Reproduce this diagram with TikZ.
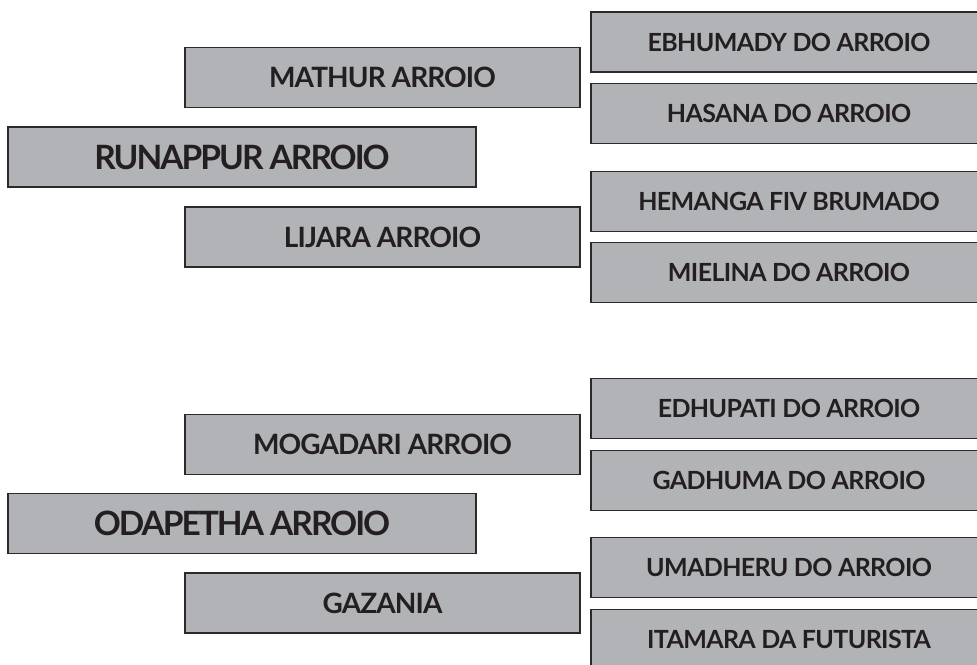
\documentclass[tikz,border=0pt]{standalone}
\usepackage{fontspec}
\setmainfont{Lato}
\definecolor{boxfill}{HTML}{B2B3B6}
\definecolor{boxline}{HTML}{2B2A2B}
\definecolor{txt}{HTML}{231F20}
\tikzset{
  gbox/.style={rectangle, fill=boxfill, draw=boxline, line width=1.3pt, inner sep=0pt,
    text=txt, minimum height=60pt},
  bigbox/.style={gbox, minimum width=468pt,
    font=\bfseries\fontsize{33.5}{33.5}\selectfont\addfontfeatures{LetterSpace=-6}},
  midbox/.style={gbox, minimum width=395pt,
    font=\bfseries\fontsize{28}{28}\selectfont\addfontfeatures{LetterSpace=-3.2}},
  rightbox/.style={gbox, minimum width=396pt,
    font=\bfseries\fontsize{25}{25}\selectfont\addfontfeatures{LetterSpace=-2.5}}
}
\begin{document}
\begin{tikzpicture}[x=1pt,y=-1pt]
\useasboundingbox (0,0) rectangle (977,664);
\clip (0,0) rectangle (977,664);
% top group
\node[bigbox] (runappur) at (242,157) {RUNAPPUR ARROIO};
\node[midbox] (mathur) at (382.5,77.5) {MATHUR ARROIO};
\node[midbox] (lijara) at (382.5,237) {LIJARA ARROIO};
\node[rightbox] (ebhumady) at (789,42) {EBHUMADY DO ARROIO};
\node[rightbox] (hasana) at (789,113.5) {HASANA DO ARROIO};
\node[rightbox] (hemanga) at (789,201.5) {HEMANGA FIV BRUMADO};
\node[rightbox] (mielina) at (789,272.5) {MIELINA DO ARROIO};
% bottom group
\node[bigbox] (odapetha) at (242,523.5) {ODAPETHA ARROIO};
\node[midbox] (mogadari) at (382.5,444.5) {MOGADARI ARROIO};
\node[midbox] (gazania) at (382.5,603) {GAZANIA};
\node[rightbox] (edhupati) at (789,408.5) {EDHUPATI DO ARROIO};
\node[rightbox] (gadhuma) at (789,480.5) {GADHUMA DO ARROIO};
\node[rightbox] (umadheru) at (789,567.5) {UMADHERU DO ARROIO};
\node[rightbox] (itamara) at (789,639.5) {ITAMARA DA FUTURISTA};
\end{tikzpicture}
\end{document}
